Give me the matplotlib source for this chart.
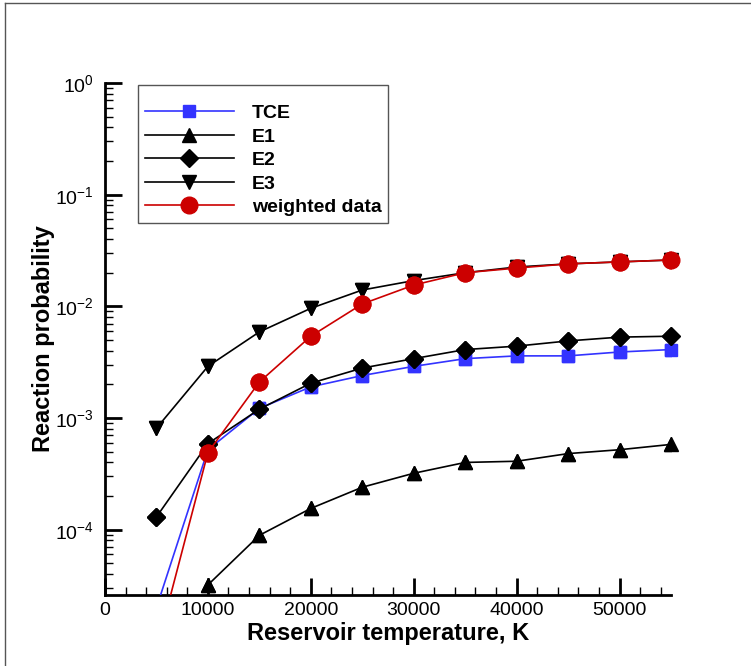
import matplotlib
matplotlib.use("Agg")
import matplotlib.pyplot as plt
from matplotlib.lines import Line2D
from matplotlib.patches import Rectangle

plt.rcParams['font.family'] = ['Liberation Sans', 'DejaVu Sans']
plt.rcParams['mathtext.fontset'] = 'custom'
plt.rcParams['mathtext.rm'] = 'Liberation Sans'
plt.rcParams['mathtext.default'] = 'regular'
plt.rcParams['axes.unicode_minus'] = False

# data
temp = [5000, 10000, 15000, 20000, 25000, 30000, 35000, 40000, 45000, 50000, 55000]
tce = [2.0e-5, 5.2e-4, 1.22e-3, 1.9e-3, 2.4e-3, 2.9e-3, 3.4e-3, 3.6e-3, 3.6e-3, 3.9e-3, 4.1e-3]
e1_temp = temp[1:]
e1 = [3.2e-5, 8.9e-5, 1.55e-4, 2.4e-4, 3.2e-4, 4.0e-4, 4.1e-4, 4.8e-4, 5.2e-4, 5.8e-4]
e2 = [1.3e-4, 5.9e-4, 1.2e-3, 2.05e-3, 2.8e-3, 3.4e-3, 4.1e-3, 4.4e-3, 4.9e-3, 5.3e-3, 5.4e-3]
e3 = [8.1e-4, 2.9e-3, 5.9e-3, 9.6e-3, 1.4e-2, 1.7e-2, 2.0e-2, 2.25e-2, 2.4e-2, 2.5e-2, 2.6e-2]
weighted = [8.5e-6, 4.9e-4, 2.1e-3, 5.4e-3, 1.05e-2, 1.55e-2, 2.0e-2, 2.2e-2, 2.4e-2, 2.5e-2, 2.6e-2]

fig = plt.figure(figsize=(7.51, 6.66), dpi=100)
ax = fig.add_axes([0.1398, 0.1066, 0.7537, 0.7688])

# frame lines of the page (top and left)
fig.add_artist(Line2D([0.006, 0.006], [0, 0.995], transform=fig.transFigure, color='#555555', lw=1))
fig.add_artist(Line2D([0.006, 1], [0.995, 0.995], transform=fig.transFigure, color='#555555', lw=1))

lw = 1.2
series = [
    (temp, tce, '#3333ff', 's', 9, 'TCE'),
    (e1_temp, e1, 'black', '^', 10, 'E1'),
    (temp, e2, 'black', 'D', 9, 'E2'),
    (temp, e3, 'black', 'v', 10, 'E3'),
    (temp, weighted, '#cc0000', 'o', 12, 'weighted data'),
]
for i, (x, y, c, m, ms, lab) in enumerate(series):
    ax.plot(x, y, color=c, lw=lw, marker=m, ms=ms, label=lab, zorder=3 + i)
    # markers again, with a clip box a little wider than the axes so the
    # points at the right edge are not cut in half
    pts, = ax.plot(x, y, color=c, marker=m, ms=ms, lw=0, zorder=3 + i)
    pts.set_clip_path(Rectangle((0, 0), 1.05, 1.0, transform=ax.transAxes))

ax.set_yscale('log')
ax.set_xlim(0, 55000)
ax.set_ylim(2.6e-5, 1)
ax.set_xticks([0, 10000, 20000, 30000, 40000, 50000])
ax.set_xticks(range(0, 55001, 2000), minor=True)

for s in ['top', 'right']:
    ax.spines[s].set_visible(False)
for s in ['left', 'bottom']:
    ax.spines[s].set_linewidth(2)

ax.tick_params(which='major', direction='in', length=12, width=2, labelsize=14)
ax.tick_params(axis='x', which='major', pad=5)
ax.tick_params(axis='y', which='major', pad=8)
ax.tick_params(which='minor', direction='in', length=6, width=1)
ax.tick_params(axis='y', which='minor', labelleft=False)

ax.set_xlabel('Reservoir temperature, K', fontsize=17, fontweight='bold', labelpad=2)
ax.set_ylabel('Reaction probability', fontsize=17, fontweight='bold')
ax.yaxis.set_label_coords(-0.088, 0.5)

leg = ax.legend(loc='upper left', bbox_to_anchor=(0.058, 0.996), prop={'weight': 'bold', 'size': 14},
                handlelength=4.6, labelspacing=0.3, fancybox=False, framealpha=1,
                edgecolor='#555555', borderpad=0.35, borderaxespad=0, handletextpad=0.9,
                title=' ', title_fontsize=6)
leg.get_frame().set_linewidth(1)

fig.savefig('out.png', dpi=100)
